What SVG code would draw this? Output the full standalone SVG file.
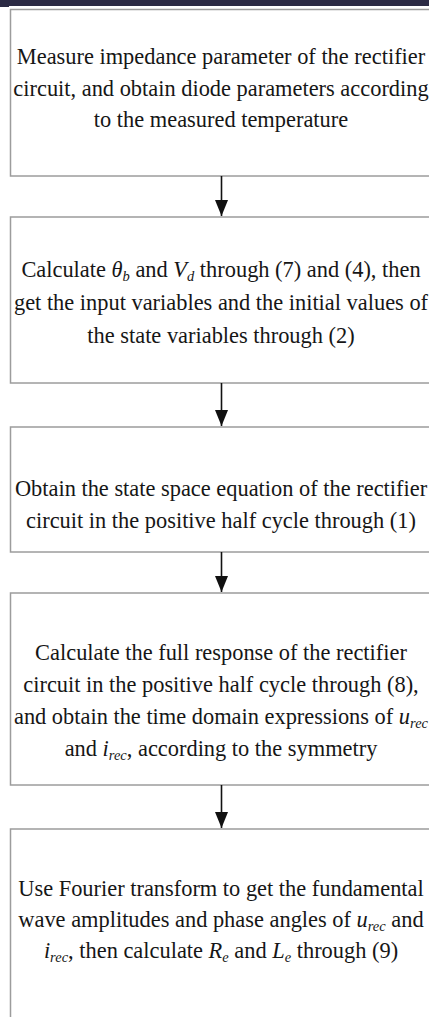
<svg xmlns="http://www.w3.org/2000/svg" width="429" height="1017" viewBox="0 0 429 1017">
<style>
.box{fill:#ffffff;stroke:#9c9c9c;stroke-width:1.5}
.t{font-family:"Liberation Serif","Times New Roman",serif;font-size:22.4px;fill:#161616;text-anchor:middle}
.i{font-style:italic}
.s{font-style:italic;font-size:14.5px}
.conn{stroke:#111;stroke-width:1.6;fill:none}
</style>
<defs>
<marker id="ah" markerWidth="16" markerHeight="13" refX="16" refY="6.5" orient="auto" markerUnits="userSpaceOnUse" viewBox="0 0 16 13">
<path d="M0,0 L16,6.5 L0,13 Z" fill="#111"/>
</marker>
</defs>
<rect x="0" y="0" width="429" height="1017" fill="#ffffff"/>
<rect x="0" y="0" width="429" height="6" fill="#2b2a44"/>
<rect x="0" y="0" width="9" height="7" fill="#2b2a44"/>
<g id="n1">
<rect class="box" x="10.5" y="9.5" width="422" height="166.5"/>
<text class="t" x="221" y="64">Measure impedance parameter of the rectifier</text>
<text class="t" x="221" y="96">circuit, and obtain diode parameters according</text>
<text class="t" x="221" y="127">to the measured temperature</text>
</g>
<g id="n2">
<rect class="box" x="10.5" y="217" width="422" height="166"/>
<text class="t" x="221" y="277">Calculate <tspan class="i">θ</tspan><tspan class="s" dy="4">b</tspan><tspan dy="-4"> and </tspan><tspan class="i">V</tspan><tspan class="s" dy="4">d</tspan><tspan dy="-4"> through (7) and (4), then</tspan></text>
<text class="t" x="221" y="310">get the input variables and the initial values of</text>
<text class="t" x="221" y="343">the state variables through (2)</text>
</g>
<g id="n3">
<rect class="box" x="10.5" y="427" width="422" height="125"/>
<text class="t" x="221" y="496">Obtain the state space equation of the rectifier</text>
<text class="t" x="221" y="528">circuit in the positive half cycle through (1)</text>
</g>
<g id="n4">
<rect class="box" x="10.5" y="593" width="422" height="192"/>
<text class="t" x="221" y="660">Calculate the full response of the rectifier</text>
<text class="t" x="221" y="692">circuit in the positive half cycle through (8),</text>
<text class="t" x="221" y="724">and obtain the time domain expressions of <tspan class="i">u</tspan><tspan class="s" dy="4">rec</tspan></text>
<text class="t" x="221" y="756">and <tspan class="i">i</tspan><tspan class="s" dy="4">rec</tspan><tspan dy="-4">, according to the symmetry</tspan></text>
</g>
<g id="n5">
<rect class="box" x="10.5" y="829" width="422" height="200"/>
<text class="t" x="221" y="896">Use Fourier transform to get the fundamental</text>
<text class="t" x="221" y="927">wave amplitudes and phase angles of <tspan class="i">u</tspan><tspan class="s" dy="4">rec</tspan><tspan dy="-4"> and</tspan></text>
<text class="t" x="221" y="958"><tspan class="i">i</tspan><tspan class="s" dy="4">rec</tspan><tspan dy="-4">, then calculate </tspan><tspan class="i">R</tspan><tspan class="s" dy="4">e</tspan><tspan dy="-4"> and </tspan><tspan class="i">L</tspan><tspan class="s" dy="4">e</tspan><tspan dy="-4"> through (9)</tspan></text>
</g>
<g id="connectors">
<line class="conn" x1="221.5" y1="176" x2="221.5" y2="216" marker-end="url(#ah)"/>
<line class="conn" x1="221.5" y1="383" x2="221.5" y2="426" marker-end="url(#ah)"/>
<line class="conn" x1="221.5" y1="552" x2="221.5" y2="592" marker-end="url(#ah)"/>
<line class="conn" x1="221.5" y1="785" x2="221.5" y2="828" marker-end="url(#ah)"/>
</g>
</svg>
